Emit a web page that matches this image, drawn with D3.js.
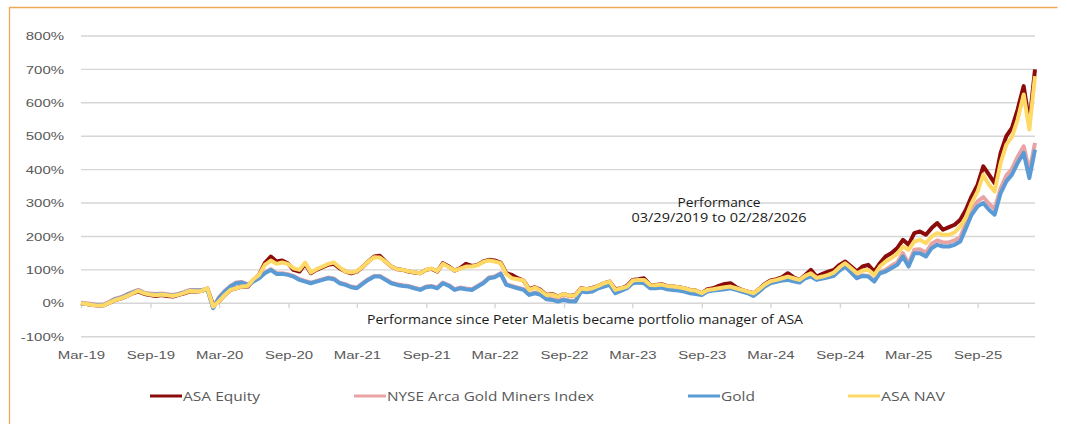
<!DOCTYPE html>
<html>
<head>
<meta charset="utf-8">
<script src="https://cdn.jsdelivr.net/npm/d3@7"></script>
<style>
  body { margin: 0; background: #fff; }
  svg { display: block; font-family: "Open Sans", sans-serif; }
</style>
</head>
<body>
<div id="chart"></div>
<script>
// Data (percent gain since 03/29/2019, half-month steps)
const startDate = new Date(2019, 2, 29);
const endDate = new Date(2026, 1, 28);

const yTicks = [-100, 0, 100, 200, 300, 400, 500, 600, 700, 800];
const xTickLabels = ["Mar-19", "Sep-19", "Mar-20", "Sep-20", "Mar-21", "Sep-21", "Mar-22",
  "Sep-22", "Mar-23", "Sep-23", "Mar-24", "Sep-24", "Mar-25", "Sep-25"];

const seriesNames = ["ASA Equity", "NYSE Arca Gold Miners Index", "Gold", "ASA NAV"];
const seriesColors = ["#8b0a0a", "#e8a4a4", "#5b9bd5", "#ffd966"];

const asaEquity = [
  0, -2, -5, -7, -6, 2, 10, 15, 22, 30,
  35, 28, 25, 22, 25, 22, 20, 25, 30, 36,
  35, 37, 44, -5, 5, 25, 40, 45, 50, 50,
  70, 85, 120, 140, 125, 128, 120, 100, 95, 118,
  90, 100, 108, 115, 118, 105, 95, 90, 95, 108,
  125, 140, 142, 125, 110, 102, 100, 95, 92, 90,
  100, 103, 95, 120, 110, 98, 105, 118, 112, 115,
  125, 130, 128, 122, 90, 85, 75, 68, 42, 48,
  40, 25, 28, 20, 28, 22, 25, 45, 42, 46,
  52, 60, 65, 42, 45, 52, 70, 72, 75, 55,
  55, 57, 52, 50, 48, 45, 40, 38, 30, 42,
  45, 52, 58, 60, 48, 40, 35, 30, 42, 58,
  68, 72, 78, 90, 78, 70, 85, 100, 80, 88,
  95, 100, 115, 125, 110, 95, 110, 115, 95, 120,
  140, 150, 165, 190, 175, 210, 215, 205, 225, 240,
  220, 228, 235, 250, 280, 320, 355, 410, 385, 360,
  450, 500, 525, 580, 650, 540, 700
];

const goldMiners = [
  2, 0, -2, -4, -3, 5, 14, 19, 27, 34,
  40, 32, 29, 28, 29, 27, 25, 29, 34, 40,
  40, 40, 44, -13, 17, 37, 52, 62, 64, 57,
  67, 77, 92, 102, 90, 90, 87, 82, 72, 67,
  62, 67, 72, 77, 74, 62, 57, 50, 47, 60,
  72, 82, 82, 72, 62, 57, 54, 52, 47, 42,
  50, 52, 47, 62, 54, 42, 47, 44, 42, 52,
  62, 77, 80, 90, 57, 52, 47, 42, 27, 32,
  27, 14, 12, 7, 12, 8, 7, 37, 35, 37,
  47, 52, 57, 32, 40, 47, 62, 64, 62, 47,
  47, 49, 44, 42, 40, 37, 32, 30, 27, 37,
  40, 42, 44, 47, 42, 37, 32, 24, 37, 52,
  62, 66, 70, 72, 68, 64, 77, 82, 72, 76,
  80, 84, 100, 112, 94, 77, 84, 82, 67, 92,
  100, 112, 122, 150, 118, 160, 162, 152, 178, 188,
  182, 182, 188, 198, 240, 280, 305, 318, 298, 282,
  345, 382, 402, 438, 470, 395, 480
];

const gold = [
  0, -2, -4, -6, -5, 3, 12, 17, 25, 32,
  38, 30, 27, 26, 27, 25, 23, 27, 32, 38,
  38, 38, 42, -15, 15, 35, 50, 60, 62, 55,
  65, 75, 90, 100, 88, 88, 85, 80, 70, 65,
  60, 65, 70, 75, 72, 60, 55, 48, 45, 58,
  70, 80, 80, 70, 60, 55, 52, 50, 45, 40,
  48, 50, 45, 60, 52, 40, 45, 42, 40, 50,
  60, 75, 78, 88, 55, 50, 45, 40, 25, 30,
  25, 12, 10, 5, 10, 6, 5, 35, 33, 35,
  45, 50, 55, 30, 38, 45, 60, 62, 60, 45,
  45, 47, 42, 40, 38, 35, 30, 28, 25, 35,
  38, 40, 42, 45, 40, 35, 30, 22, 35, 50,
  60, 64, 68, 70, 66, 62, 75, 80, 70, 74,
  78, 82, 98, 110, 92, 75, 82, 80, 65, 90,
  95, 105, 115, 140, 110, 150, 150, 140, 165, 175,
  170, 170, 175, 185, 225, 265, 290, 300, 280, 265,
  330, 365, 385, 420, 450, 375, 460
];

const asaNav = [
  0, -2, -5, -7, -6, 2, 10, 15, 22, 30,
  37, 30, 26, 24, 26, 24, 22, 26, 31, 37,
  36, 37, 45, -10, 5, 25, 40, 45, 50, 52,
  72, 85, 115, 128, 118, 122, 118, 105, 100, 122,
  92, 102, 110, 118, 122, 108, 95, 92, 96, 108,
  125, 138, 137, 125, 110, 102, 100, 96, 93, 90,
  100, 104, 96, 118, 108, 98, 104, 110, 110, 114,
  124, 128, 125, 120, 88, 75, 72, 68, 40, 47,
  38, 24, 26, 20, 28, 22, 24, 44, 42, 45,
  52, 60, 65, 40, 45, 50, 68, 70, 70, 55,
  54, 56, 52, 50, 48, 45, 40, 38, 30, 40,
  42, 45, 48, 50, 45, 40, 35, 30, 42, 56,
  66, 70, 75, 80, 75, 70, 82, 90, 76, 80,
  85, 92, 108, 120, 105, 90, 98, 100, 85, 110,
  125, 135, 148, 170, 160, 185, 190, 180, 200, 210,
  205, 205, 212, 230, 258, 300, 335, 385, 355, 335,
  420, 475, 498, 550, 625, 520, 680
];

const annoTitle = ["Performance", "03/29/2019 to 02/28/2026"];
const annoNote = "Performance since Peter Maletis became portfolio manager of ASA";

const width = 1067, height = 424;
const SX = 1.3;           // the reference is stretched horizontally
const textColor = "#595959";

const svg = d3.select("#chart").append("svg")
  .attr("width", width)
  .attr("height", height);

// Outer frame
svg.append("path")
  .attr("d", "M9.5,430 V7.5 H1057.5")
  .attr("fill", "none")
  .attr("stroke", "#eea85a")
  .attr("stroke-width", 1.3);

// Scales
const x = d3.scaleTime().domain([startDate, endDate]).range([81, 1035]);
const y = d3.scaleLinear().domain([-100, 800]).range([336.7, 36]);

const span = d3.timeDay.count(startDate, endDate);
const n = asaEquity.length;
const dates = d3.range(n).map(i => d3.timeDay.offset(startDate, Math.round(i * span / (n - 1))));

// Gridlines
svg.append("g")
  .selectAll("line")
  .data(yTicks)
  .join("line")
  .attr("x1", 81).attr("x2", 1035)
  .attr("y1", d => y(d)).attr("y2", d => y(d))
  .attr("stroke", "#d6d6d6")
  .attr("stroke-width", 1.4);

// Y axis
const gy = svg.append("g")
  .attr("transform", "translate(81,0)")
  .call(d3.axisLeft(y).tickValues(yTicks).tickSize(0).tickPadding(17).tickFormat(d => d + "%"));
gy.select(".domain").remove();
gy.selectAll("text")
  .attr("x", -17 / SX)
  .attr("transform", `scale(${SX},1)`)
  .attr("fill", textColor)
  .style("font-size", "11.5px");

// X axis (sits on the 0% line, labels low)
const tickDates = xTickLabels.map((_, i) => d3.timeMonth.offset(startDate, i * 6));
const gx = svg.append("g")
  .attr("transform", `translate(0,${y(0)})`)
  .call(d3.axisBottom(x).tickValues(tickDates).tickSize(5).tickPadding(43)
    .tickFormat((d, i) => xTickLabels[i]));
gx.select(".domain").remove();
gx.selectAll("line").attr("stroke", "#d6d6d6").attr("stroke-width", 1.4);
gx.selectAll("text")
  .attr("transform", `scale(${SX},1)`)
  .attr("fill", textColor)
  .style("font-size", "11.5px");

// Lines
const allSeries = [asaEquity, goldMiners, gold, asaNav];
const line = d3.line()
  .x((d, i) => x(dates[i]))
  .y(d => y(d));

svg.append("g")
  .selectAll("path")
  .data(allSeries)
  .join("path")
  .attr("d", d => line(d))
  .attr("fill", "none")
  .attr("stroke", (d, i) => seriesColors[i])
  .attr("stroke-width", 4)
  .attr("stroke-linejoin", "round");

// Annotations
const anno = svg.append("g").attr("fill", "#1a1a1a").style("font-size", "12px");
anno.selectAll("text.title")
  .data(annoTitle)
  .join("text")
  .attr("class", "title")
  .attr("x", 719)
  .attr("y", (d, i) => 207 + i * 15)
  .attr("text-anchor", "middle")
  .attr("textLength", (d, i) => [83, 175][i])
  .attr("lengthAdjust", "spacingAndGlyphs")
  .text(d => d);

anno.append("text")
  .attr("x", 367)
  .attr("y", 324)
  .attr("textLength", 436)
  .attr("lengthAdjust", "spacingAndGlyphs")
  .text(annoNote);

// Legend
const legendX = [150, 354, 688, 848];
const legendW = [77, 207, 34, 64];
const legend = svg.append("g")
  .selectAll("g")
  .data(seriesNames)
  .join("g")
  .attr("transform", (d, i) => `translate(${legendX[i]},396)`);

legend.append("line")
  .attr("x1", 0).attr("x2", 32)
  .attr("stroke", (d, i) => seriesColors[i])
  .attr("stroke-width", 3);

legend.append("text")
  .attr("x", 33)
  .attr("y", 4.5)
  .attr("fill", textColor)
  .style("font-size", "12px")
  .attr("textLength", (d, i) => legendW[i])
  .attr("lengthAdjust", "spacingAndGlyphs")
  .text(d => d);
</script>
</body>
</html>
